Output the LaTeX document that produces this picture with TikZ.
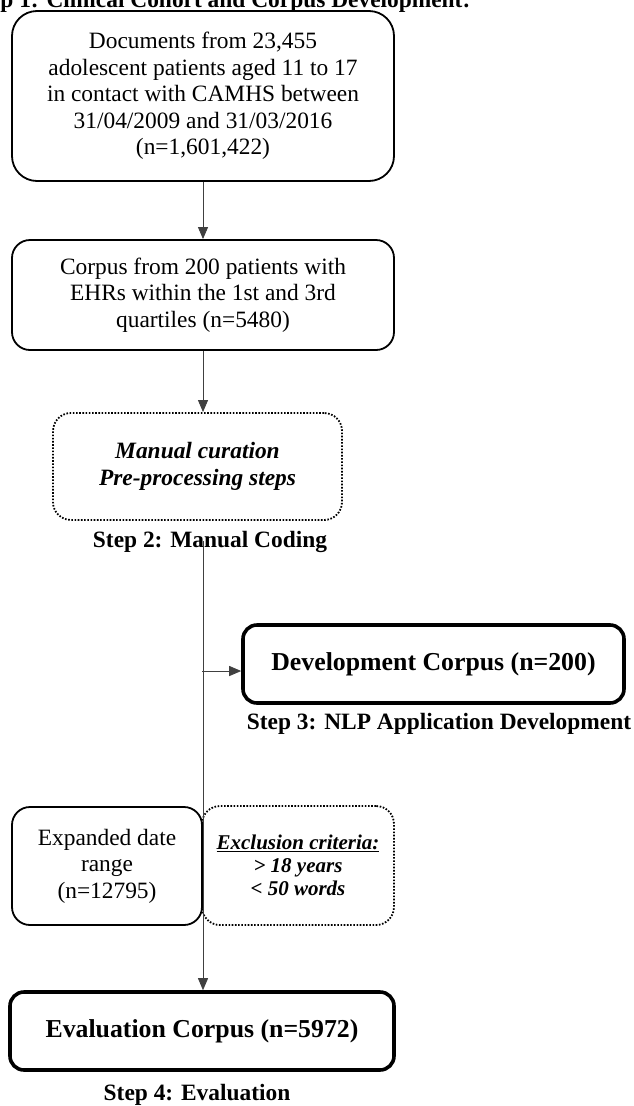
\documentclass[tikz,border=0pt]{standalone}
\usepackage{fontspec}
\setmainfont{Liberation Serif}
\usetikzlibrary{arrows.meta}
\newcommand{\regtxt}{\fontsize{23.4}{26.5}\selectfont}
\newcommand{\bigbold}{\fontsize{25.8}{28}\selectfont\bfseries}
\newcommand{\smalltxt}{\fontsize{21}{23.2}\selectfont}
\begin{document}
\begin{tikzpicture}[x=1pt,y=-1pt,
  solidbox/.style={draw=black,line width=1.8pt,rounded corners=#1,inner sep=0pt,align=center,font=\regtxt},
  solidbox/.default=18pt,
  thickbox/.style={draw=black,line width=3.6pt,rounded corners=14pt,inner sep=0pt,align=center,font=\bigbold},
  dotbox/.style={draw=black,line width=1.8pt,dash pattern=on 1.6pt off 1.6pt,rounded corners=18pt,inner sep=0pt,align=center},
  steplabel/.style={anchor=base,inner sep=0pt,font=\regtxt\bfseries},
  conn/.style={draw=black!75,line width=0.9pt},
  arr/.style={conn,-{Triangle[length=12pt,width=10pt]}}]
\useasboundingbox (0,0) rectangle (633,1106);
\clip (0,0) rectangle (633,1106);

\node[steplabel,anchor=base west] (title) at (-31,7) {Step 1: Clinical Cohort and Corpus Development:};

\node[solidbox=25pt,minimum width=382pt,minimum height=170pt] (box1) at (203,96)
  {Documents from 23,455\\adolescent patients aged 11 to 17\\in contact with CAMHS between\\31/04/2009 and 31/03/2016\\(n=1,601,422)};

\node[solidbox,minimum width=382pt,minimum height=110pt] (box2) at (203,295)
  {Corpus from 200 patients with\\EHRs within the 1st and 3rd\\quartiles (n=5480)};

\node[dotbox,minimum width=289pt,minimum height=107pt,font=\regtxt\bfseries\itshape] (cur) at (197.5,466.5)
  {Manual curation\\Pre-processing steps};

\node[steplabel] (step2) at (210,547) {Step 2: Manual Coding};

\node[thickbox,minimum width=381pt,minimum height=78pt] (dev) at (433.5,664)
  {Development Corpus (n=200)};

\node[steplabel] (step3) at (439,729) {Step 3: NLP Application Development};

\node[solidbox,minimum width=190pt,minimum height=118pt] (exp) at (107,866)
  {Expanded date\\range\\(n=12795)};

\node[dotbox,minimum width=192pt,minimum height=119pt,font=\smalltxt\bfseries\itshape] (excl) at (298,865.5)
  {\underline{Exclusion criteria:}\\> 18 years\\< 50 words};

\node[thickbox,minimum width=384pt,minimum height=78pt] (eval) at (202,1031)
  {Evaluation Corpus (n=5972)};

\node[steplabel] (step4) at (197,1100) {Step 4: Evaluation};

\coordinate (br) at (202,671);

\draw[arr] (box1.south) -- (box2.north);
\draw[arr] (box2.south) -- (box2.south |- cur.north);
\draw[arr] (box2.south |- step2.center) -- (box2.south |- eval.north);
\draw[arr] (br) -- (br -| dev.west);
\end{tikzpicture}
\end{document}
